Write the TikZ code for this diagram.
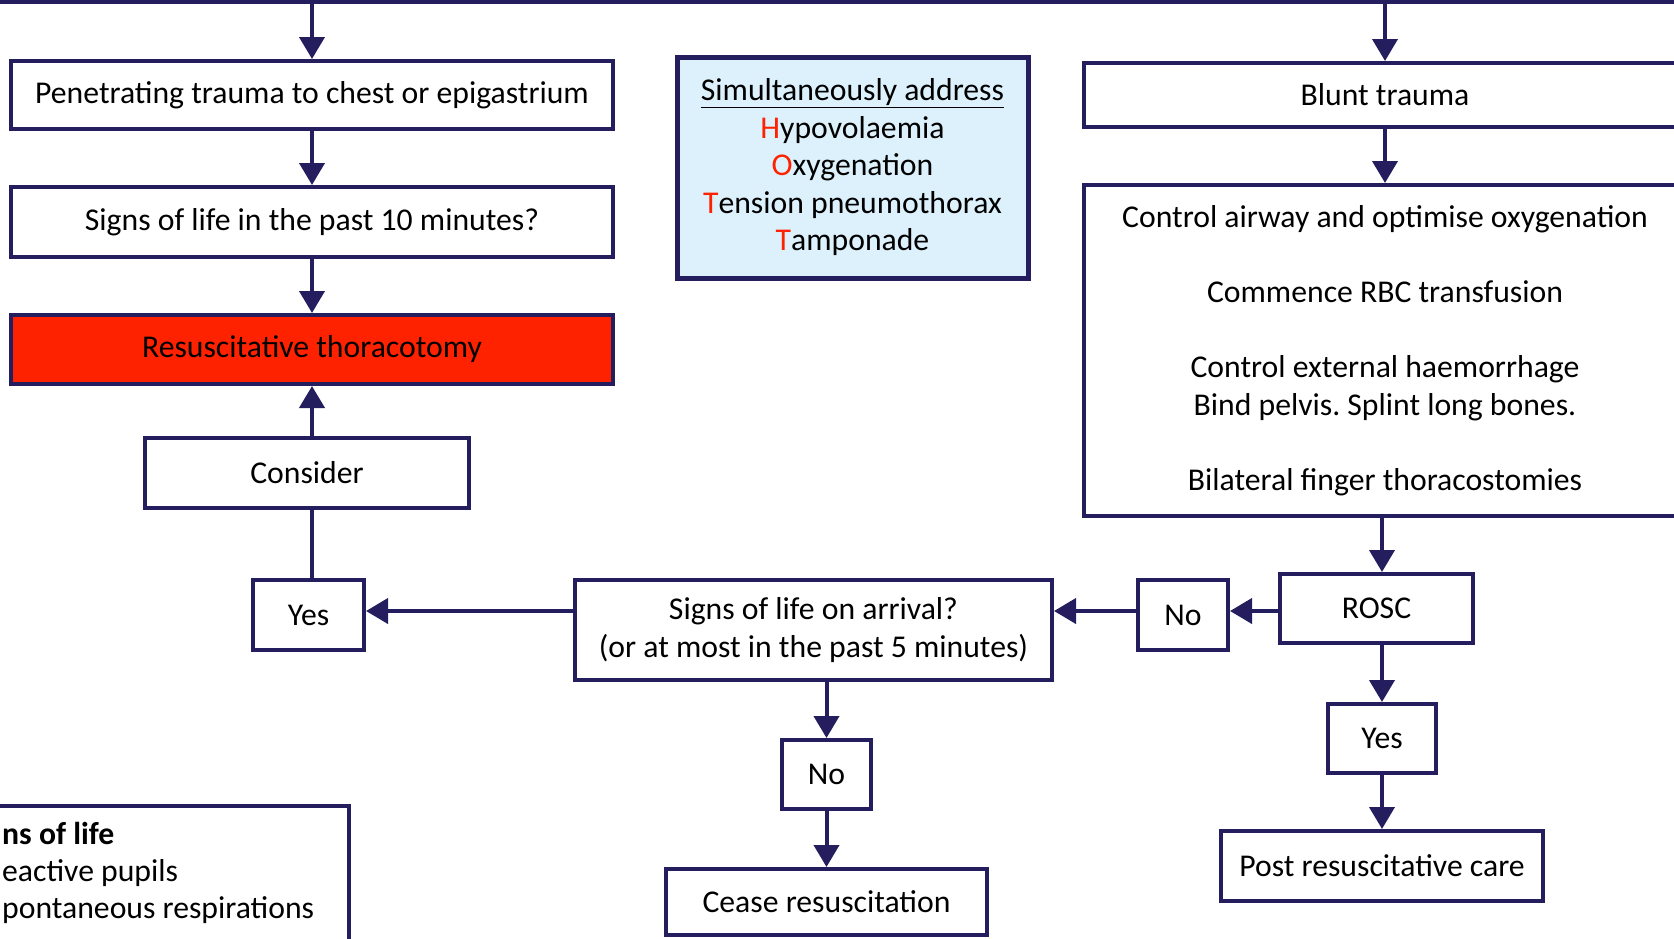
\documentclass[tikz,border=0pt]{standalone}
\usepackage{fontspec}
\setmainfont{Carlito}
\definecolor{flownavy}{RGB}{36,30,94}
\definecolor{thorred}{RGB}{255,34,0}
\definecolor{hottblue}{RGB}{220,241,252}
\usetikzlibrary{arrows.meta}
\newcommand{\hottletter}[1]{\textcolor{thorred}{#1}}
\frenchspacing

\begin{document}
\begin{tikzpicture}[x=1pt, y=-1pt,
    flowbox/.style={draw=flownavy, line width=4pt, fill=white, inner sep=0pt, align=center,
      font=\fontsize{31.7}{37.5}\selectfont},
    flowline/.style={draw=flownavy, line width=4pt},
    flowarrow/.style={flowline, -{Triangle[length=22pt, width=25pt]}},
    listtext/.style={anchor=base west, inner sep=0pt, font=\fontsize{31.7}{37.5}\selectfont}
  ]
  \useasboundingbox (0,0) rectangle (1674,938);
  \clip (0,0) rectangle (1674,938);

  % penetrating branch
  \node[flowbox, minimum width=602pt, minimum height=68pt] (pen) at (312,95) {Penetrating trauma to chest or epigastrium};
  \node[flowbox, minimum width=602pt, minimum height=70pt] (sol10) at (312,222) {Signs of life in the past 10 minutes?};
  \node[flowbox, fill=thorred, minimum width=602pt, minimum height=69pt] (thor) at (312,349.5) {Resuscitative thoracotomy};
  \node[flowbox, minimum width=324pt, minimum height=70pt] (consider) at (307,473) {Consider};
  \node[flowbox, minimum width=111pt, minimum height=70pt] (yesleft) at (308.5,615) {Yes};

  % HOTT reminder
  \node[flowbox, fill=hottblue, line width=5pt, minimum width=351pt, minimum height=221pt] (hott) at (852.5,167.5) {
    \underline{Simultaneously address}\\
    \hottletter{H}ypovolaemia\\
    \hottletter{O}xygenation\\
    \hottletter{T}ension pneumothorax\\
    \hottletter{T}amponade
  };

  % arrival decision
  \node[flowbox, minimum width=477pt, minimum height=100pt] (arrival) at (813.5,630) {Signs of life on arrival?\\(or at most in the past 5 minutes)};
  \node[flowbox, minimum width=89pt, minimum height=69pt] (nomid) at (826.5,774.5) {No};
  \node[flowbox, minimum width=321pt, minimum height=66pt] (cease) at (826.5,902) {Cease resuscitation};

  % blunt branch
  \node[flowbox, minimum width=602pt, minimum height=64pt] (blunt) at (1385,95) {Blunt trauma};
  \node[flowbox, minimum width=602pt, minimum height=331pt] (bluntcare) at (1385,350.5) {
    Control airway and optimise oxygenation\\[37.5pt]
    Commence RBC transfusion\\[37.5pt]
    Control external haemorrhage\\
    Bind pelvis. Splint long bones.\\[37.5pt]
    Bilateral finger thoracostomies
  };
  \node[flowbox, minimum width=193pt, minimum height=69pt] (rosc) at (1376.5,608.5) {ROSC};
  \node[flowbox, minimum width=90pt, minimum height=70pt] (noright) at (1183,615) {No};
  \node[flowbox, minimum width=108pt, minimum height=69pt] (yesright) at (1382,738.5) {Yes};
  \node[flowbox, minimum width=322pt, minimum height=70pt] (post) at (1382,866) {Post resuscitative care};

  % signs of life list (box cut at the page edge)
  \node[flowbox, anchor=north east, minimum width=400pt, minimum height=200pt] (lifebox) at (351,804) {};
  \node[listtext] (lifehead) at (2,844) {\textbf{ns of life}};
  \node[listtext] (lifepupils) at (2,881) {eactive pupils};
  \node[listtext] (liferesp) at (2,918) {pontaneous respirations};

  % connectors
  \coordinate (topleft) at (0,2);
  \coordinate (topright) at (1674,2);
  \coordinate (midrow) at (0,611);
  \draw[flowline] (topleft) -- (topright);
  \draw[flowarrow] (pen.north |- topleft) -- (pen.north);
  \draw[flowarrow] (pen) -- (sol10);
  \draw[flowarrow] (sol10) -- (thor);
  \draw[flowarrow] (consider.north -| thor.south) -- (thor.south);
  \draw[flowline] (yesleft.north -| thor.south) -- (consider.south -| thor.south);
  \draw[flowarrow] (blunt.north |- topleft) -- (blunt.north);
  \draw[flowarrow] (blunt) -- (bluntcare);
  \draw[flowarrow] (yesright.north |- bluntcare.south) -- (yesright.north |- rosc.north);
  \draw[flowarrow] (rosc.west |- midrow) -- (noright.east |- midrow);
  \draw[flowarrow] (noright.west |- midrow) -- (arrival.east |- midrow);
  \draw[flowarrow] (arrival.west |- midrow) -- (yesleft.east |- midrow);
  \draw[flowarrow] (nomid.north |- arrival.south) -- (nomid.north);
  \draw[flowarrow] (nomid) -- (cease);
  \draw[flowarrow] (yesright.north |- rosc.south) -- (yesright.north);
  \draw[flowarrow] (yesright) -- (post);
\end{tikzpicture}
\end{document}
